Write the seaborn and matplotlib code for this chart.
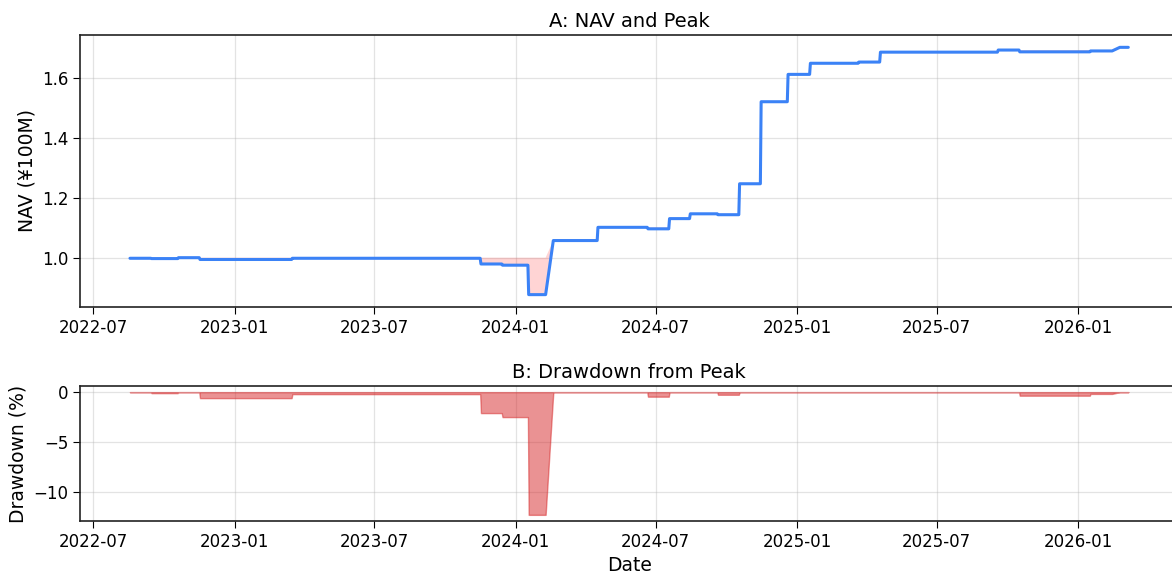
import pandas as pd
import numpy as np
import matplotlib
matplotlib.use("Agg")
import matplotlib.pyplot as plt
import matplotlib.dates as mdates
import seaborn as sns

# NAV observations (start / end of each plateau), in 100M yen
nav_dates = [
    "2022-08-18", "2022-09-14",
    "2022-09-15", "2022-10-19",
    "2022-10-20", "2022-11-16",
    "2022-11-17", "2023-03-16",
    "2023-03-17", "2023-11-16",
    "2023-11-17", "2023-12-14",
    "2023-12-15", "2024-01-17",
    "2024-01-18", "2024-02-09",
    "2024-02-19", "2024-04-16",
    "2024-04-17", "2024-06-20",
    "2024-06-21", "2024-07-18",
    "2024-07-19", "2024-08-14",
    "2024-08-15", "2024-09-19",
    "2024-09-20", "2024-10-17",
    "2024-10-18", "2024-11-14",
    "2024-11-15", "2024-12-19",
    "2024-12-20", "2025-01-17",
    "2025-01-18", "2025-03-21",
    "2025-03-22", "2025-04-18",
    "2025-04-19", "2025-09-18",
    "2025-09-19", "2025-10-16",
    "2025-10-17", "2026-01-16",
    "2026-01-17", "2026-02-14",
    "2026-02-24", "2026-03-07",
]
nav_values = [
    1.000, 1.000,
    0.999, 0.999,
    1.002, 1.002,
    0.996, 0.996,
    1.000, 1.000,
    0.981, 0.981,
    0.977, 0.977,
    0.879, 0.879,
    1.059, 1.059,
    1.103, 1.103,
    1.098, 1.098,
    1.132, 1.132,
    1.148, 1.148,
    1.145, 1.145,
    1.248, 1.248,
    1.521, 1.521,
    1.612, 1.612,
    1.649, 1.649,
    1.653, 1.653,
    1.686, 1.686,
    1.693, 1.693,
    1.687, 1.687,
    1.690, 1.690,
    1.702, 1.702,
]

df = pd.DataFrame({"Date": pd.to_datetime(nav_dates), "NAV": nav_values})
df["Peak"] = df["NAV"].cummax()
df["Drawdown"] = (df["NAV"] / df["Peak"] - 1) * 100

sns.set_style("ticks")
plt.rcParams["font.family"] = ["DejaVu Sans"]
plt.rcParams["text.color"] = "black"
plt.rcParams["axes.labelcolor"] = "black"
plt.rcParams["xtick.color"] = "black"
plt.rcParams["ytick.color"] = "black"

fig = plt.figure(figsize=(11.72, 5.81), dpi=100)
ax1 = fig.add_axes([0.0683, 0.4716, 0.937, 0.4682])
ax2 = fig.add_axes([0.0683, 0.1033, 0.937, 0.2323])

blue = "#3b82f6"

# Panel A
ax1.fill_between(df["Date"], df["NAV"], df["Peak"], where=df["NAV"] < df["Peak"],
                 interpolate=True, color="#ff0000", alpha=0.17, linewidth=0)
sns.lineplot(data=df, x="Date", y="NAV", ax=ax1, color=blue, linewidth=2.2)
ax1.set_title("A: NAV and Peak", fontsize=14)
ax1.set_xlabel("")
ax1.set_ylabel("NAV (¥100M)", fontsize=13.5)

# Panel B
ax2.fill_between(df["Date"], df["Drawdown"], 0, color="tab:red", alpha=0.5, linewidth=1)
ax2.set_title("B: Drawdown from Peak", fontsize=14)
ax2.set_xlabel("Date", fontsize=13.5)
ax2.set_ylabel("Drawdown (%)", fontsize=13.5)

for ax in (ax1, ax2):
    ax.grid(True, color="#b0b0b0", linewidth=0.9, alpha=0.35)
    ax.xaxis.set_major_locator(mdates.MonthLocator(bymonth=[1, 7]))
    ax.xaxis.set_major_formatter(mdates.DateFormatter("%Y-%m"))
    ax.tick_params(labelsize=12, length=5, color="black")
    ax.margins(x=0.05)
    for s in ax.spines.values():
        s.set_color("#222222")
        s.set_linewidth(1.2)

ax1.set_xlim(ax2.get_xlim())

plt.savefig("out.png", dpi=100)
plt.close()
